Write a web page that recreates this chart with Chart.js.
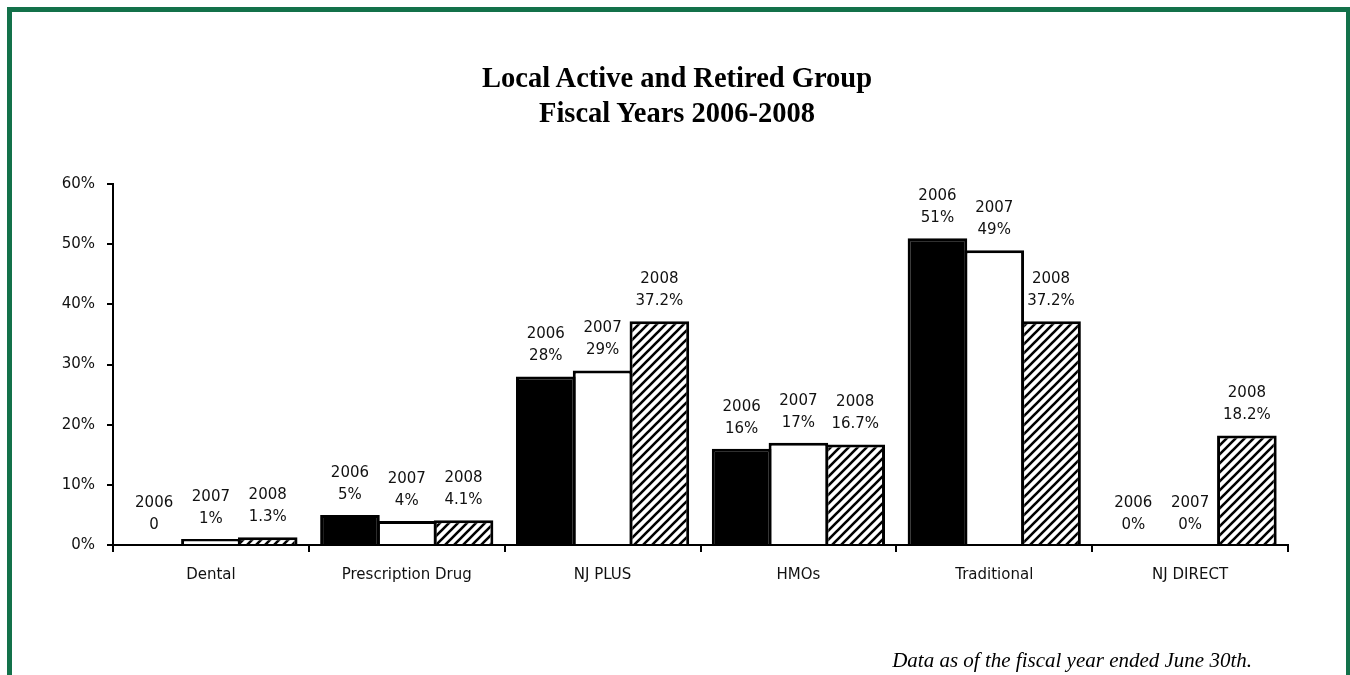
<!DOCTYPE html>
<html>
<head>
<meta charset="utf-8">
<script src="https://cdn.jsdelivr.net/npm/chart.js@4.4.0/dist/chart.umd.min.js"></script>
<style>
  body { margin: 0; background: #fff; }
  #frame {
    position: absolute; left: 7px; top: 7px; width: 1334px; height: 700px;
    border: 5px solid #13714a;
  }
  #title {
    position: absolute; left: 0; top: 60px; width: 1354px; text-align: center;
    font-family: "Liberation Serif", serif; font-weight: bold; font-size: 28.5px;
    line-height: 35px; color: #000;
  }
  #note {
    position: absolute; right: 98px; top: 648px;
    font-family: "Liberation Serif", serif; font-style: italic; font-size: 21px; color: #000;
  }
  #chart { position: absolute; left: 0; top: 0; }
</style>
</head>
<body>
<div id="frame"></div>
<canvas id="chart" width="1350" height="675"></canvas>
<div id="title">Local Active and Retired Group<br>Fiscal Years 2006-2008</div>
<div id="note">Data as of the fiscal year ended June 30th.</div>
<script>
// Categorías y valores (en %)
const categories = ['Dental', 'Prescription Drug', 'NJ PLUS', 'HMOs', 'Traditional', 'NJ DIRECT'];
const years = ['2006', '2007', '2008'];
const values2006 = [0, 5, 28, 16, 51, 0];
const values2007 = [1, 4, 29, 17, 49, 0];
const values2008 = [1.3, 4.1, 37.2, 16.7, 37.2, 18.2];
// Etiquetas tal como aparecen en el gráfico
const labels2006 = ['0', '5%', '28%', '16%', '51%', '0%'];
const labels2007 = ['1%', '4%', '29%', '17%', '49%', '0%'];
const labels2008 = ['1.3%', '4.1%', '37.2%', '16.7%', '37.2%', '18.2%'];
const yTicks = [0, 10, 20, 30, 40, 50, 60];

// Patrón de rayas diagonales para 2008
function hatchPattern() {
    const c = document.createElement('canvas');
    c.width = 9; c.height = 9;
    const g = c.getContext('2d');
    g.fillStyle = '#fff';
    g.fillRect(0, 0, 9, 9);
    g.strokeStyle = '#000';
    g.lineWidth = 2.6;
    g.beginPath();
    g.moveTo(-1, 10); g.lineTo(10, -1);
    g.moveTo(-1, 1); g.lineTo(1, -1);
    g.moveTo(8, 10); g.lineTo(10, 8);
    g.stroke();
    return g.createPattern(c, 'repeat');
}

const font = { family: 'DejaVu Sans', size: 15 };

// Dibuja "año / valor" encima de cada barra
const barLabels = {
    id: 'barLabels',
    afterDatasetsDraw(chart) {
        const ctx = chart.ctx;
        ctx.save();
        ctx.font = '15px "DejaVu Sans"';
        ctx.fillStyle = '#111';
        ctx.textAlign = 'center';
        ctx.textBaseline = 'middle';
        chart.data.datasets.forEach((ds, i) => {
            chart.getDatasetMeta(i).data.forEach((bar, j) => {
                ctx.fillText(ds.valueLabels[j], bar.x, bar.y - 20);
                ctx.fillText(ds.yearLabel, bar.x, bar.y - 42);
            });
        });
        ctx.restore();
    }
};

new Chart(document.getElementById('chart'), {
    type: 'bar',
    data: {
        labels: categories,
        datasets: [
            { label: years[0], yearLabel: years[0], valueLabels: labels2006, data: values2006,
              backgroundColor: '#000', borderColor: '#000', borderWidth: 3 },
            { label: years[1], yearLabel: years[1], valueLabels: labels2007, data: values2007,
              backgroundColor: '#fff', borderColor: '#000', borderWidth: 3 },
            { label: years[2], yearLabel: years[2], valueLabels: labels2008, data: values2008,
              backgroundColor: hatchPattern(), borderColor: '#000', borderWidth: 3 }
        ]
    },
    options: {
        responsive: false,
        animation: false,
        devicePixelRatio: 1,
        layout: { padding: { left: 0, right: 62, top: 184, bottom: 0 } },
        datasets: { bar: { categoryPercentage: 0.87, barPercentage: 1.05 } },
        plugins: { legend: { display: false }, tooltip: { enabled: false } },
        scales: {
            x: {
                afterFit: s => { s.height = 130; },
                border: { color: '#000', width: 2 },
                grid: { offset: true, drawOnChartArea: false, color: '#000', lineWidth: 2, tickLength: 7 },
                ticks: { color: '#111', font: font, padding: 14 }
            },
            y: {
                min: 0, max: 60,
                afterFit: s => { s.width = 113; },
                afterBuildTicks: s => { s.ticks = yTicks.map(v => ({ value: v })); },
                border: { color: '#000', width: 2 },
                grid: { drawOnChartArea: false, color: '#000', lineWidth: 2, tickLength: 6 },
                ticks: { color: '#111', font: font, padding: 12, callback: v => v + '%' }
            }
        }
    },
    plugins: [barLabels]
});
</script>
</body>
</html>
